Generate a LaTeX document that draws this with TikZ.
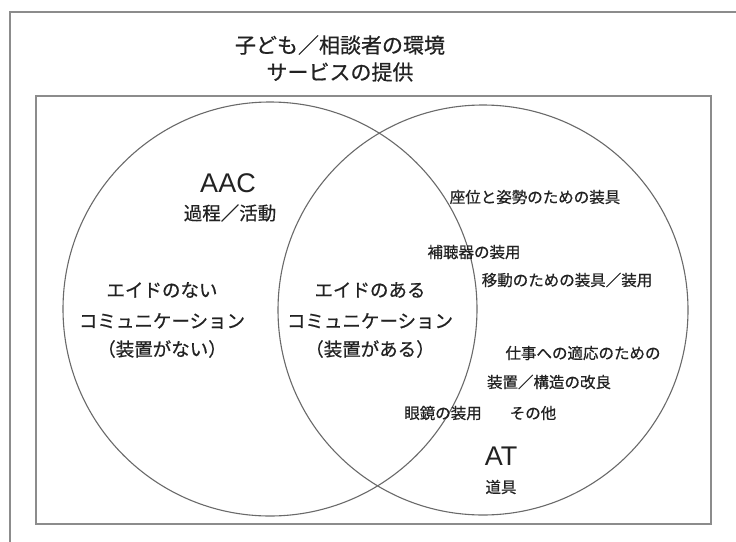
\documentclass[tikz,border=0pt]{standalone}
\usepackage{fontspec}
\setmainfont{Liberation Sans}
\newfontfamily\jp[FakeBold=0.6]{Noto Sans CJK JP}
\definecolor{frame}{HTML}{8C8C8C}
\definecolor{ring}{HTML}{6A6A6A}
\definecolor{ink}{HTML}{222222}
\begin{document}
\begin{tikzpicture}[x=1pt,y=-1pt,
  frameline/.style={draw=frame,line width=1.6pt},
  ringline/.style={draw=ring,line width=1.1pt},
  title/.style={text=ink,font=\jp\fontsize{21}{27}\selectfont,align=center,inner sep=0pt},
  big/.style={text=ink,font=\jp\fontsize{18.5}{30}\selectfont,align=center,inner sep=0pt},
  small/.style={text=ink,font=\jp\fontsize{15.5}{20}\selectfont,inner sep=0pt},
  latin/.style={text=ink,font=\fontsize{27}{30}\selectfont,inner sep=0pt}]
\useasboundingbox (0,0) rectangle (736,541);
\clip (0,0) rectangle (736,541);
\fill[white] (0,0) rectangle (736,541);
% frames
\draw[frameline] (10,12) rectangle (745,550);
\draw[frameline] (36,96) rectangle (711,524);
% circles
\node[circle,ringline,minimum size=414pt,inner sep=0pt] (aacc) at (270,309) {};
\node[circle,ringline,minimum size=410pt,inner sep=0pt] (atc) at (483,310) {};
% title
\node[title] (t1) at (340,45) {子ども／相談者の環境};
\node[title] (t2) at (340,72) {サービスの提供};
% AAC side
\node[latin] (aac) at (228,183) {AAC};
\node[big] (proc) at (230,213) {過程／活動};
\node[big] (l1) at (162,290) {エイドのない};
\node[big] (l2) at (162,321) {コミュニケーション};
\node[big] (l3) at (162,349) {（装置がない）};
% middle
\node[big] (m1) at (370,290) {エイドのある};
\node[big] (m2) at (370,321) {コミュニケーション};
\node[big] (m3) at (370,349) {（装置がある）};
% AT side
\node[small] (s1) at (535,197) {座位と姿勢のための装具};
\node[small] (s2) at (474,252) {補聴器の装用};
\node[small] (s3) at (567,280) {移動のための装具／装用};
\node[small] (s4) at (583,353) {仕事への適応のための};
\node[small] (s5) at (549,382) {装置／構造の改良};
\node[small] (s6) at (443,413) {眼鏡の装用};
\node[small] (s7) at (533,413) {その他};
\node[latin] (at) at (501,456) {AT};
\node[small] (tool) at (501,487) {道具};
\end{tikzpicture}
\end{document}
